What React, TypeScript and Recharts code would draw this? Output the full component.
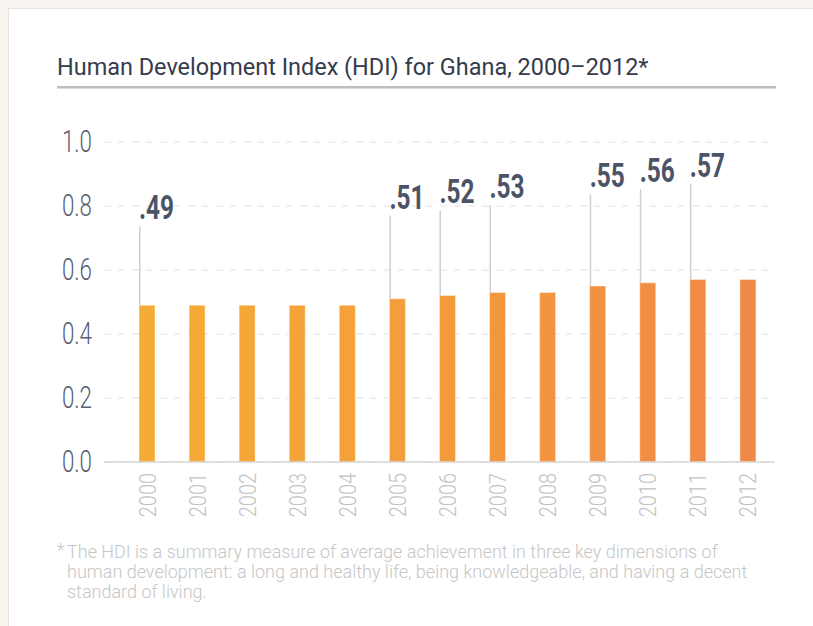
import { BarChart, Bar, XAxis, YAxis, CartesianGrid, Cell, LabelList } from 'recharts';

// HDI for Ghana
const years = ['2000', '2001', '2002', '2003', '2004', '2005', '2006', '2007', '2008', '2009', '2010', '2011', '2012'];
const hdiValues = [0.49, 0.49, 0.49, 0.49, 0.49, 0.51, 0.52, 0.53, 0.53, 0.55, 0.56, 0.57, 0.57];
const valueLabels = ['.49', '', '', '', '', '.51', '.52', '.53', '', '.55', '.56', '.57', ''];
const yTicks = [0, 0.2, 0.4, 0.6, 0.8, 1];
const barColors = [
  '#f5ab35', '#f5a936', '#f4a637', '#f4a338', '#f4a13a', '#f39d3c', '#f39a3d',
  '#f3973e', '#f29440', '#f29141', '#f18e43', '#f18a45', '#f08847',
];

const footnote = [
  'The HDI is a summary measure of average achievement in three key dimensions of',
  'human development: a long and healthy life, being knowledgeable, and having a decent',
  'standard of living.',
];

const chartData = years.map((year, i) => ({
  year,
  hdi: hdiValues[i],
  label: valueLabels[i],
}));

const FONT = 'Roboto, "Liberation Sans", sans-serif';

function YTick({ x, y, payload }: any) {
  return (
    <g transform={`translate(${x},${y + 10})`}>
      <text transform="scale(0.72,1)" textAnchor="end" fill="#566074" fontFamily={FONT} fontWeight={300} fontSize={31}>
        {payload.value.toFixed(1)}
      </text>
    </g>
  );
}

function XTick({ x, y, payload }: any) {
  return (
    <g transform={`translate(${x + 8.5},${y}) rotate(-90) scale(0.83,1)`}>
      <text textAnchor="end" fill="#c3c3c3" fontFamily={FONT} fontWeight={300} fontSize={24}>
        {payload.value}
      </text>
    </g>
  );
}

function ValueLabel({ x, y, height, value }: any) {
  if (!value) return null;
  // leader line rises higher for taller bars, as in the original layout
  const top = y - (0.66 * height - 24.6);
  return (
    <g>
      <line x1={x + 0.75} x2={x + 0.75} y1={y} y2={top} stroke="#cfcfcf" strokeWidth={1.5} />
      <g transform={`translate(${x},${top - 7})`}>
        <text transform="scale(0.74,1)" fill="#4b5467" fontFamily={FONT} fontWeight={700} fontSize={33}>
          {value}
        </text>
      </g>
    </g>
  );
}

export default function App() {
  return (
    <div style={{ position: 'fixed', left: 0, top: 0, width: 813, height: 626, background: '#f7f4f0', overflow: 'hidden' }}>
      <div
        style={{
          position: 'absolute',
          left: 8,
          top: 8,
          width: 830,
          height: 640,
          background: '#ffffff',
          border: '1px solid #e6e2dd',
        }}
      />
      <div style={{ position: 'absolute', left: 0, top: 0 }}>
        <BarChart width={813} height={626} data={chartData} margin={{ top: 142, right: 38, left: 0, bottom: 0 }}>
          <CartesianGrid vertical={false} stroke="#e2e2e2" strokeDasharray="7 7" />
          <XAxis
            dataKey="year"
            height={164}
            interval={0}
            padding={{ left: 18, right: 2 }}
            tickLine={false}
            tickSize={0}
            tickMargin={11}
            axisLine={{ stroke: '#d6d6d6', strokeWidth: 1.5 }}
            tick={<XTick />}
          />
          <YAxis
            width={104}
            domain={[0, 1]}
            ticks={yTicks}
            axisLine={false}
            tickLine={false}
            tickSize={0}
            tickMargin={12}
            tick={<YTick />}
          />
          <Bar dataKey="hdi" barSize={16} isAnimationActive={false} stroke="#ffffff" strokeOpacity={0.4} strokeWidth={1}>
            {chartData.map((d, i) => (
              <Cell key={d.year} fill={barColors[i]} />
            ))}
            <LabelList dataKey="label" content={<ValueLabel />} />
          </Bar>
        </BarChart>
      </div>
      <svg width={813} height={626} style={{ position: 'absolute', left: 0, top: 0, pointerEvents: 'none' }}>
        <g transform="translate(57,75)">
          <text transform="scale(0.977,1)" fontFamily={FONT} fontWeight={400} fontSize={24} fill="#343b4c">
            Human Development Index (HDI) for Ghana, 2000–2012*
          </text>
        </g>
        <rect x={57} y={86} width={719} height={2.5} fill="#bdbdbd" />
        <text x={57} y={556} fontFamily={FONT} fontWeight={300} fontSize={18} fill="#c6c6c6">*</text>
        {footnote.map((line, i) => (
          <text key={i} x={67} y={558 + i * 20} fontFamily={FONT} fontWeight={300} fontSize={18} fill="#c6c6c6">
            {line}
          </text>
        ))}
      </svg>
    </div>
  );
}
